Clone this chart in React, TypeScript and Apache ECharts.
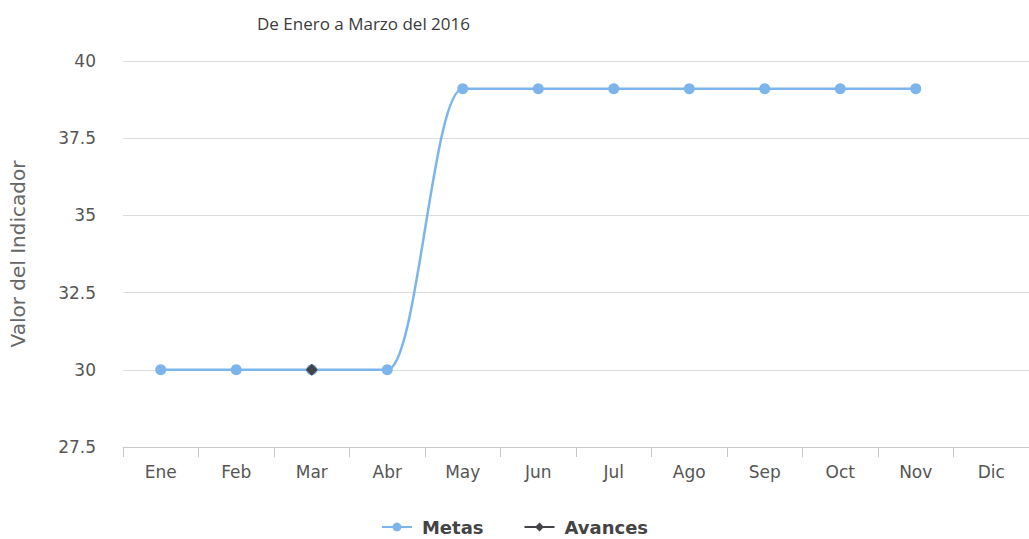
import React, { useEffect, useRef } from "react";
import * as echarts from "echarts";

const titleText = "De Enero a Marzo del 2016";
const yAxisName = "Valor del Indicador";
const months = ["Ene", "Feb", "Mar", "Abr", "May", "Jun", "Jul", "Ago", "Sep", "Oct", "Nov", "Dic"];
const metas: (number | null)[] = [30, 30, 30, 30, 39.1, 39.1, 39.1, 39.1, 39.1, 39.1, 39.1, null];
const avances: (number | null)[] = [null, null, 30, null, null, null, null, null, null, null, null, null];
const yMin = 27.5;
const yMax = 40;
const yStep = 2.5;

export default function App() {
  const ref = useRef<HTMLDivElement>(null);
  useEffect(() => {
    if (!ref.current) return;
    const chart = echarts.init(ref.current, undefined, { renderer: "svg" });
    const font = "DejaVu Sans, Verdana, sans-serif";
    chart.setOption({
      animation: false,
      backgroundColor: "#ffffff",
      title: {
        text: titleText,
        left: 252,
        top: 10,
        textStyle: { fontFamily: "Open Sans, sans-serif", fontSize: 17, fontWeight: "normal", color: "#3a3a3a" },
      },
      legend: {
        top: 513,
        left: "center",
        itemGap: 40,
        itemWidth: 30,
        itemHeight: 11,
        textStyle: { fontFamily: font, fontSize: 18, fontWeight: "bold", color: "#444", padding: [0, 0, 0, 5] },
        data: ["Metas", "Avances"],
      },
      grid: { left: 118, top: 61, width: 912, height: 386, containLabel: false },
      xAxis: {
        type: "category",
        data: months,
        boundaryGap: true,
        axisLine: { lineStyle: { color: "#c8c8c8" } },
        axisTick: { show: true, length: 10, lineStyle: { color: "#c8c8c8" } },
        axisLabel: { fontFamily: font, fontSize: 17, color: "#555", margin: 16 },
      },
      yAxis: {
        type: "value",
        min: yMin,
        max: yMax,
        interval: yStep,
        name: yAxisName,
        nameLocation: "middle",
        nameGap: 95,
        nameRotate: 90,
        nameTextStyle: { fontFamily: font, fontSize: 20, color: "#666" },
        axisLine: { show: false },
        axisTick: { show: false },
        axisLabel: { fontFamily: font, fontSize: 17, color: "#555", margin: 27 },
        splitLine: { lineStyle: { color: "#dcdcdc" } },
      },
      series: [
        {
          name: "Metas",
          type: "line",
          data: metas,
          smooth: 0.4,
          smoothMonotone: "x",
          symbol: "circle",
          symbolSize: 11,
          color: "#7cb5ec",
          lineStyle: { width: 2.5, color: "#7cb5ec" },
          itemStyle: { color: "#7cb5ec" },
        },
        {
          name: "Avances",
          type: "line",
          data: avances,
          symbol: "diamond",
          symbolSize: 12,
          color: "#434348",
          lineStyle: { width: 2.5, color: "#434348" },
          itemStyle: { color: "#434348" },
        },
      ],
    });
    return () => chart.dispose();
  }, []);
  return (
    <div
      ref={ref}
      style={{ position: "fixed", left: 0, top: 0, width: 1029, height: 539 }}
    />
  );
}
